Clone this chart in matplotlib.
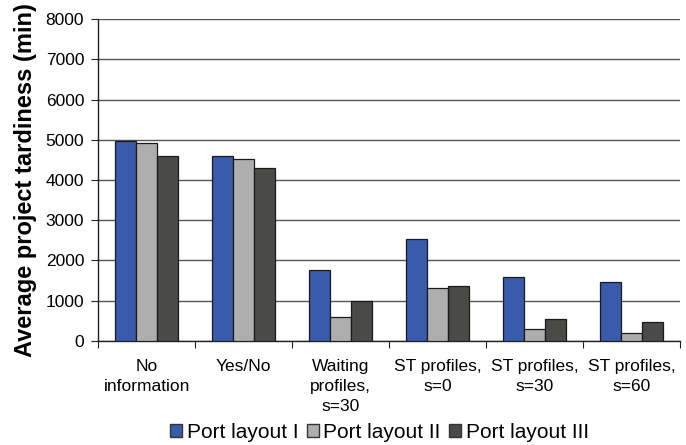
import matplotlib
matplotlib.use("Agg")
import matplotlib.pyplot as plt
import numpy as np
from matplotlib.patches import Patch

plt.rcParams['font.family'] = ['Liberation Sans', 'DejaVu Sans']

categories = ["No\ninformation", "Yes/No", "Waiting\nprofiles,\ns=30",
              "ST profiles,\ns=0", "ST profiles,\ns=30", "ST profiles,\ns=60"]
series_names = ["Port layout I", "Port layout II", "Port layout III"]
layout1 = [4970, 4600, 1760, 2530, 1580, 1460]
layout2 = [4920, 4510, 600, 1310, 290, 200]
layout3 = [4600, 4290, 1000, 1365, 555, 470]
colors = ["#3A5BAB", "#ADAEAD", "#4A4A48"]

fig = plt.figure(figsize=(6.86, 4.45), dpi=100)
ax = fig.add_axes([0.143, 0.234, 0.848, 0.723])

x = np.arange(len(categories))
w = 0.215
for i, (vals, c) in enumerate(zip([layout1, layout2, layout3], colors)):
    ax.bar(x + (i - 1) * w, vals, w, color=c, edgecolor="#1a1a1a", linewidth=0.9, zorder=3)

ax.set_xlim(-0.5, len(categories) - 0.5)
ax.set_ylim(0, 8000)
ax.set_yticks(np.arange(0, 8001, 1000))
ax.yaxis.grid(True, color="#555555", linewidth=1.0, zorder=0)
ax.set_axisbelow(True)

ax.set_xticks(np.arange(-0.5, len(categories), 1.0))
ax.set_xticklabels([])
ax.set_xticks(x, minor=True)
ax.set_xticklabels(categories, minor=True, fontsize=12.5, linespacing=1.4)
ax.tick_params(axis='x', which='minor', length=0, pad=13)
ax.tick_params(axis='x', which='major', length=5, direction='out', color="#222222")
ax.tick_params(axis='y', length=5, direction='out', labelsize=12.5, color="#222222", pad=5)

for s in ["top", "right"]:
    ax.spines[s].set_visible(False)
ax.spines["left"].set_linewidth(1.0)
ax.spines["bottom"].set_linewidth(1.0)
ax.spines["left"].set_color("#222222")
ax.spines["bottom"].set_color("#222222")

ax.set_ylabel("Average project tardiness (min)", fontsize=17, fontweight="bold", labelpad=6)

handles = [Patch(facecolor=c, edgecolor="#333333", label=n) for c, n in zip(colors, series_names)]
fig.legend(handles=handles, loc="lower center", bbox_to_anchor=(0.553, -0.035), ncol=3,
           frameon=False, fontsize=15, handlelength=0.6, handleheight=0.6,
           handletextpad=0.2, columnspacing=0.4)

fig.savefig("out.png", dpi=100)
